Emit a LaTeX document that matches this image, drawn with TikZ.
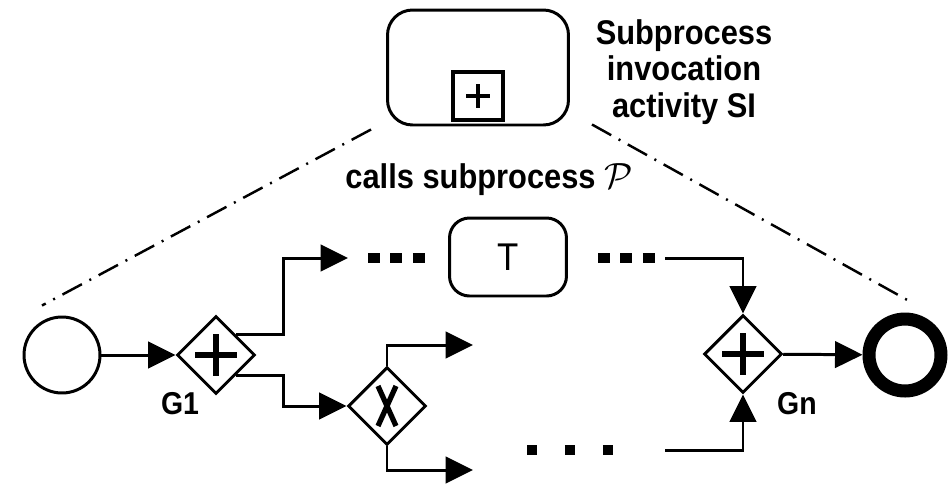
\documentclass[tikz,border=0pt]{standalone}
\usepackage{fontspec}
\setmainfont{Liberation Sans}
\newfontfamily\labelfont{Liberation Sans}[FakeStretch=0.9]
\usepackage{amsmath}
\usetikzlibrary{positioning, shapes.geometric, arrows.meta, calc}

\begin{document}
\begin{tikzpicture}[x=0.02cm, y=-0.02cm, line width=1.7pt,
    every node/.style={font=\labelfont\bfseries\fontsize{19.5}{20.7}\selectfont},
    gateway/.style={draw, diamond, minimum width=1.56cm, minimum height=1.56cm, inner sep=0pt},
    gwlabel/.style={font=\labelfont\bfseries\fontsize{18}{20}\selectfont},
    task/.style={draw, rectangle, rounded corners=0.4cm, minimum width=2.34cm, minimum height=1.56cm, font=\labelfont\mdseries\fontsize{22}{24}\selectfont},
    flow/.style={-{Triangle[length=0.55cm, width=0.53cm]}},
    dashdot/.style={line width=1.4pt, dash pattern=on 0.44cm off 0.17cm on 0.04cm off 0.17cm},
    dots/.style={line width=0.2cm}]
    \useasboundingbox (0,0) rectangle (948,485);

    % subprocess invocation activity
    \node (SI) [draw, rectangle, rounded corners=0.5cm, minimum width=3.62cm, minimum height=2.3cm] at (478,67.5) {};
    \node (mark) [draw, line width=2.4pt, minimum width=1.0cm, minimum height=0.96cm, inner sep=0pt] at (478,96) {};
    \draw[line width=2.4pt] (mark) ++(-12,0) -- ++(24,0) (mark) ++(0,-12) -- ++(0,24);
    \node (silabel) [align=center] at (684,72) {Subprocess\\invocation\\activity SI};
    \node (calls) [anchor=base] at (489,188) {calls subprocess $\mathcal{P}$};

    % the called process
    \node (start) [draw, circle, minimum size=1.52cm, inner sep=0pt] at (62,355) {};
    \node (G1) [gateway] at (216,355) {};
    \node (X) [gateway] at (387,406) {};
    \node (T) [task] at (508,257) {T};
    \node (Gn) [gateway] at (743,354) {};
    \node (end) [draw, circle, line width=7.4pt, minimum size=1.44cm, inner sep=0pt] at (905,355) {};
    \node (g1label) [gwlabel] at (180,404) {G1};
    \node (gnlabel) [gwlabel] at (797,404) {Gn};

    \foreach \g in {G1, Gn}
        \draw[line width=3pt] (\g) ++(-21,0) -- ++(42,0) (\g) ++(0,-21) -- ++(0,42);
    \draw[line width=3pt] (X) ++(-9,-20) -- ++(18,40) (X) ++(9,-20) -- ++(-18,40);

    \coordinate (tA) at (348,258);
    \coordinate (tB) at (665,258);
    \coordinate (tC) at (665,450);
    \coordinate (xa) at (473,345);
    \coordinate (xb) at (473,470);

    \draw[dots, dash pattern=on 0.24cm off 0.21cm] (368,258) -- (425,258);
    \draw[dots, dash pattern=on 0.24cm off 0.21cm] (598,258) -- (655,258);
    \draw[dots, dash pattern=on 0.2cm off 0.56cm] (527,450) -- (613,450);

    \draw[flow] (start) -- (G1);
    \draw[flow] (G1.north east) -- ++(47,0) |- (tA);
    \draw[flow] (G1.south east) -- ++(47,0) |- (X.west);
    \draw[flow] (X.north) |- (xa);
    \draw[flow] (X.south) |- (xb);
    \draw[flow] (tB) -| (Gn.north);
    \draw[flow] (tC) -| (Gn.south);
    \draw[flow] (Gn) -- (end);

    \draw[dashdot] ($(SI.south west)+(-15,3)$) -- ($(start.north)+(-20,-10)$);
    \draw[dashdot] ($(SI.south east)+(22,-2)$) -- ($(end.north)+(5,-11)$);
\end{tikzpicture}
\end{document}
